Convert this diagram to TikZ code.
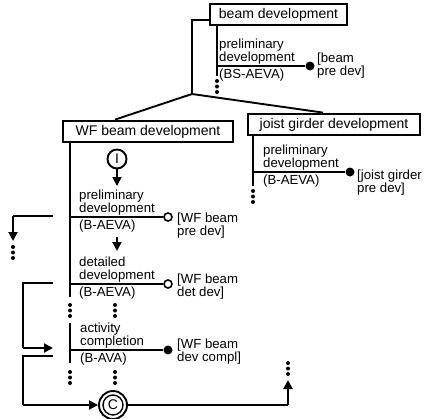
\documentclass[tikz,border=0pt]{standalone}
\usepackage{fontspec}
\setmainfont{Liberation Sans}
\usetikzlibrary{arrows.meta}
\begin{document}
\begin{tikzpicture}[x=1pt,y=-1pt,
  ln/.style={line width=1.9pt},
  arr/.style={line width=1.9pt,-{Triangle[length=9pt,width=9pt]}},
  boxy/.style={draw,line width=2.8pt,inner sep=0pt,minimum height=21pt,font=\fontsize{14}{12}\selectfont},
  txt/.style={inner sep=0pt,anchor=base west,font=\fontsize{13.2}{12}\selectfont},
  odot/.style={circle,draw,fill=white,line width=1.6pt,inner sep=0pt,minimum size=8pt},
  fdot/.style={circle,fill=black,inner sep=0pt,minimum size=9pt},
  vdts/.pic={\fill (0,0) circle (2pt) (0,5.5) circle (2pt) (0,11) circle (2pt);}
]
\fill[white] (0,0) rectangle (426,418);
\useasboundingbox (0,0) rectangle (426,418);

% ---------- boxes ----------
\node[boxy,minimum width=137pt] (beam) at (278.5,14.5) {beam development};
\node[boxy,minimum width=170pt] (wf) at (148,131.5) {WF beam development};
\node[boxy,minimum width=172pt] (joist) at (334,124.5) {joist girder development};

% ---------- tree ----------
\coordinate (jn) at (192,94);
\draw[ln] ([yshift=-5.5pt]beam.west) -| (jn);
\draw[ln] (jn) -- ([xshift=-33pt]wf.north);
\draw[ln] (jn) -- ([xshift=-11pt]joist.north);

% ---------- beam development ----------
\coordinate (bv0) at (217,25);
\coordinate (bv1) at (217,76);
\coordinate (bh) at (217,66);
\node[fdot] (bd) at (310,66) {};
\draw[ln] (bv0) -- (bv1);
\draw[ln] (bh) -- (bd);
\pic at (217,81) {vdts};
\node[txt] (bp1) at (219,48.5) {preliminary};
\node[txt] (bp2) at (219,61) {development};
\node[txt] (bp3) at (219,78) {(BS-AEVA)};
\node[txt] (bl1) at (317,62) {[beam};
\node[txt] (bl2) at (317,75) {pre dev]};

% ---------- joist girder development ----------
\coordinate (jv0) at (253,135);
\coordinate (jv1) at (253,186);
\coordinate (jh) at (253,172);
\node[fdot] (jd) at (350,172) {};
\draw[ln] (jv0) -- (jv1);
\draw[ln] (jh) -- (jd);
\pic at (253,191) {vdts};
\node[txt] (jp1) at (263,154.5) {preliminary};
\node[txt] (jp2) at (263,167) {development};
\node[txt] (jp3) at (263,184) {(B-AEVA)};
\node[txt] (jl1) at (357,179) {[joist girder};
\node[txt] (jl2) at (357,192) {pre dev]};

% ---------- WF beam development ----------
\coordinate (wv0) at (70,142);
\coordinate (wv1) at (70,297);
\coordinate (wv2) at (70,323);
\coordinate (wv3) at (70,363);
\draw[ln] (wv0) -- (wv1);
\draw[ln] (wv2) -- (wv3);
\pic at (70,305) {vdts};
\pic at (70,372) {vdts};
\pic at (115,305) {vdts};
\pic at (115,372) {vdts};

\node[circle,draw,line width=1.9pt,inner sep=0pt,minimum size=19pt,font=\fontsize{14}{12}\selectfont] (ci) at (117,159) {I};
\coordinate (a1) at (117,186);
\draw[arr] (ci) -- (a1);
\coordinate (a2s) at (117,237);
\coordinate (a2e) at (117,251);
\draw[arr] (a2s) -- (a2e);

% preliminary
\coordinate (h1) at (70,217);
\node[odot] (o1) at (168,217) {};
\draw[ln] (h1) -- (o1);
\node[txt] (wp1) at (79,199.5) {preliminary};
\node[txt] (wp2) at (79,212) {development};
\node[txt] (wp3) at (79,229) {(B-AEVA)};
\node[txt] (wl1) at (177,222) {[WF beam};
\node[txt] (wl2) at (177,235) {pre dev]};

% detailed
\coordinate (h2) at (70,284);
\node[odot] (o2) at (168,284) {};
\draw[ln] (h2) -- (o2);
\node[txt] (wd1) at (79,266.5) {detailed};
\node[txt] (wd2) at (79,279) {development};
\node[txt] (wd3) at (79,296) {(B-AEVA)};
\node[txt] (wm1) at (177,283) {[WF beam};
\node[txt] (wm2) at (177,296) {det dev]};

% completion
\coordinate (h3) at (70,350);
\node[fdot] (o3) at (168,350) {};
\draw[ln] (h3) -- (o3);
\node[txt] (wc1) at (80,332.5) {activity};
\node[txt] (wc2) at (80,345) {completion};
\node[txt] (wc3) at (80,362) {(B-AVA)};
\node[txt] (wn1) at (177,348.5) {[WF beam};
\node[txt] (wn2) at (177,361) {dev compl]};

% ---------- outside links ----------
\coordinate (l0) at (53,216);
\coordinate (l1) at (13,216);
\coordinate (l2) at (13,241);
\draw[ln] (l0) -- (l1);
\draw[arr] (l1) -- (l2);
\pic at (13,247) {vdts};

\coordinate (f0) at (53,283);
\coordinate (f1) at (23,283);
\coordinate (f2) at (23,348);
\coordinate (f3) at (53,348);
\draw[ln] (f0) -- (f1) -- (f2);
\draw[arr] (f2) -- (f3);

\node[circle,draw,line width=1.9pt,inner sep=0pt,minimum size=28pt,font=\fontsize{14}{12}\selectfont] (cc) at (113,405) {C};
\draw[line width=1.4pt] (cc.center) circle (10pt);

\coordinate (g0) at (53,356);
\coordinate (g1) at (23,356);
\coordinate (g2) at (23,405);
\draw[ln] (g0) -- (g1) -- (g2);
\draw[arr] (g2) -- (cc);

\coordinate (e1) at (288,405);
\coordinate (e2) at (288,380);
\draw[ln] (cc) -- (e1);
\draw[arr] (e1) -- (e2);
\pic at (288,363) {vdts};
\end{tikzpicture}
\end{document}
